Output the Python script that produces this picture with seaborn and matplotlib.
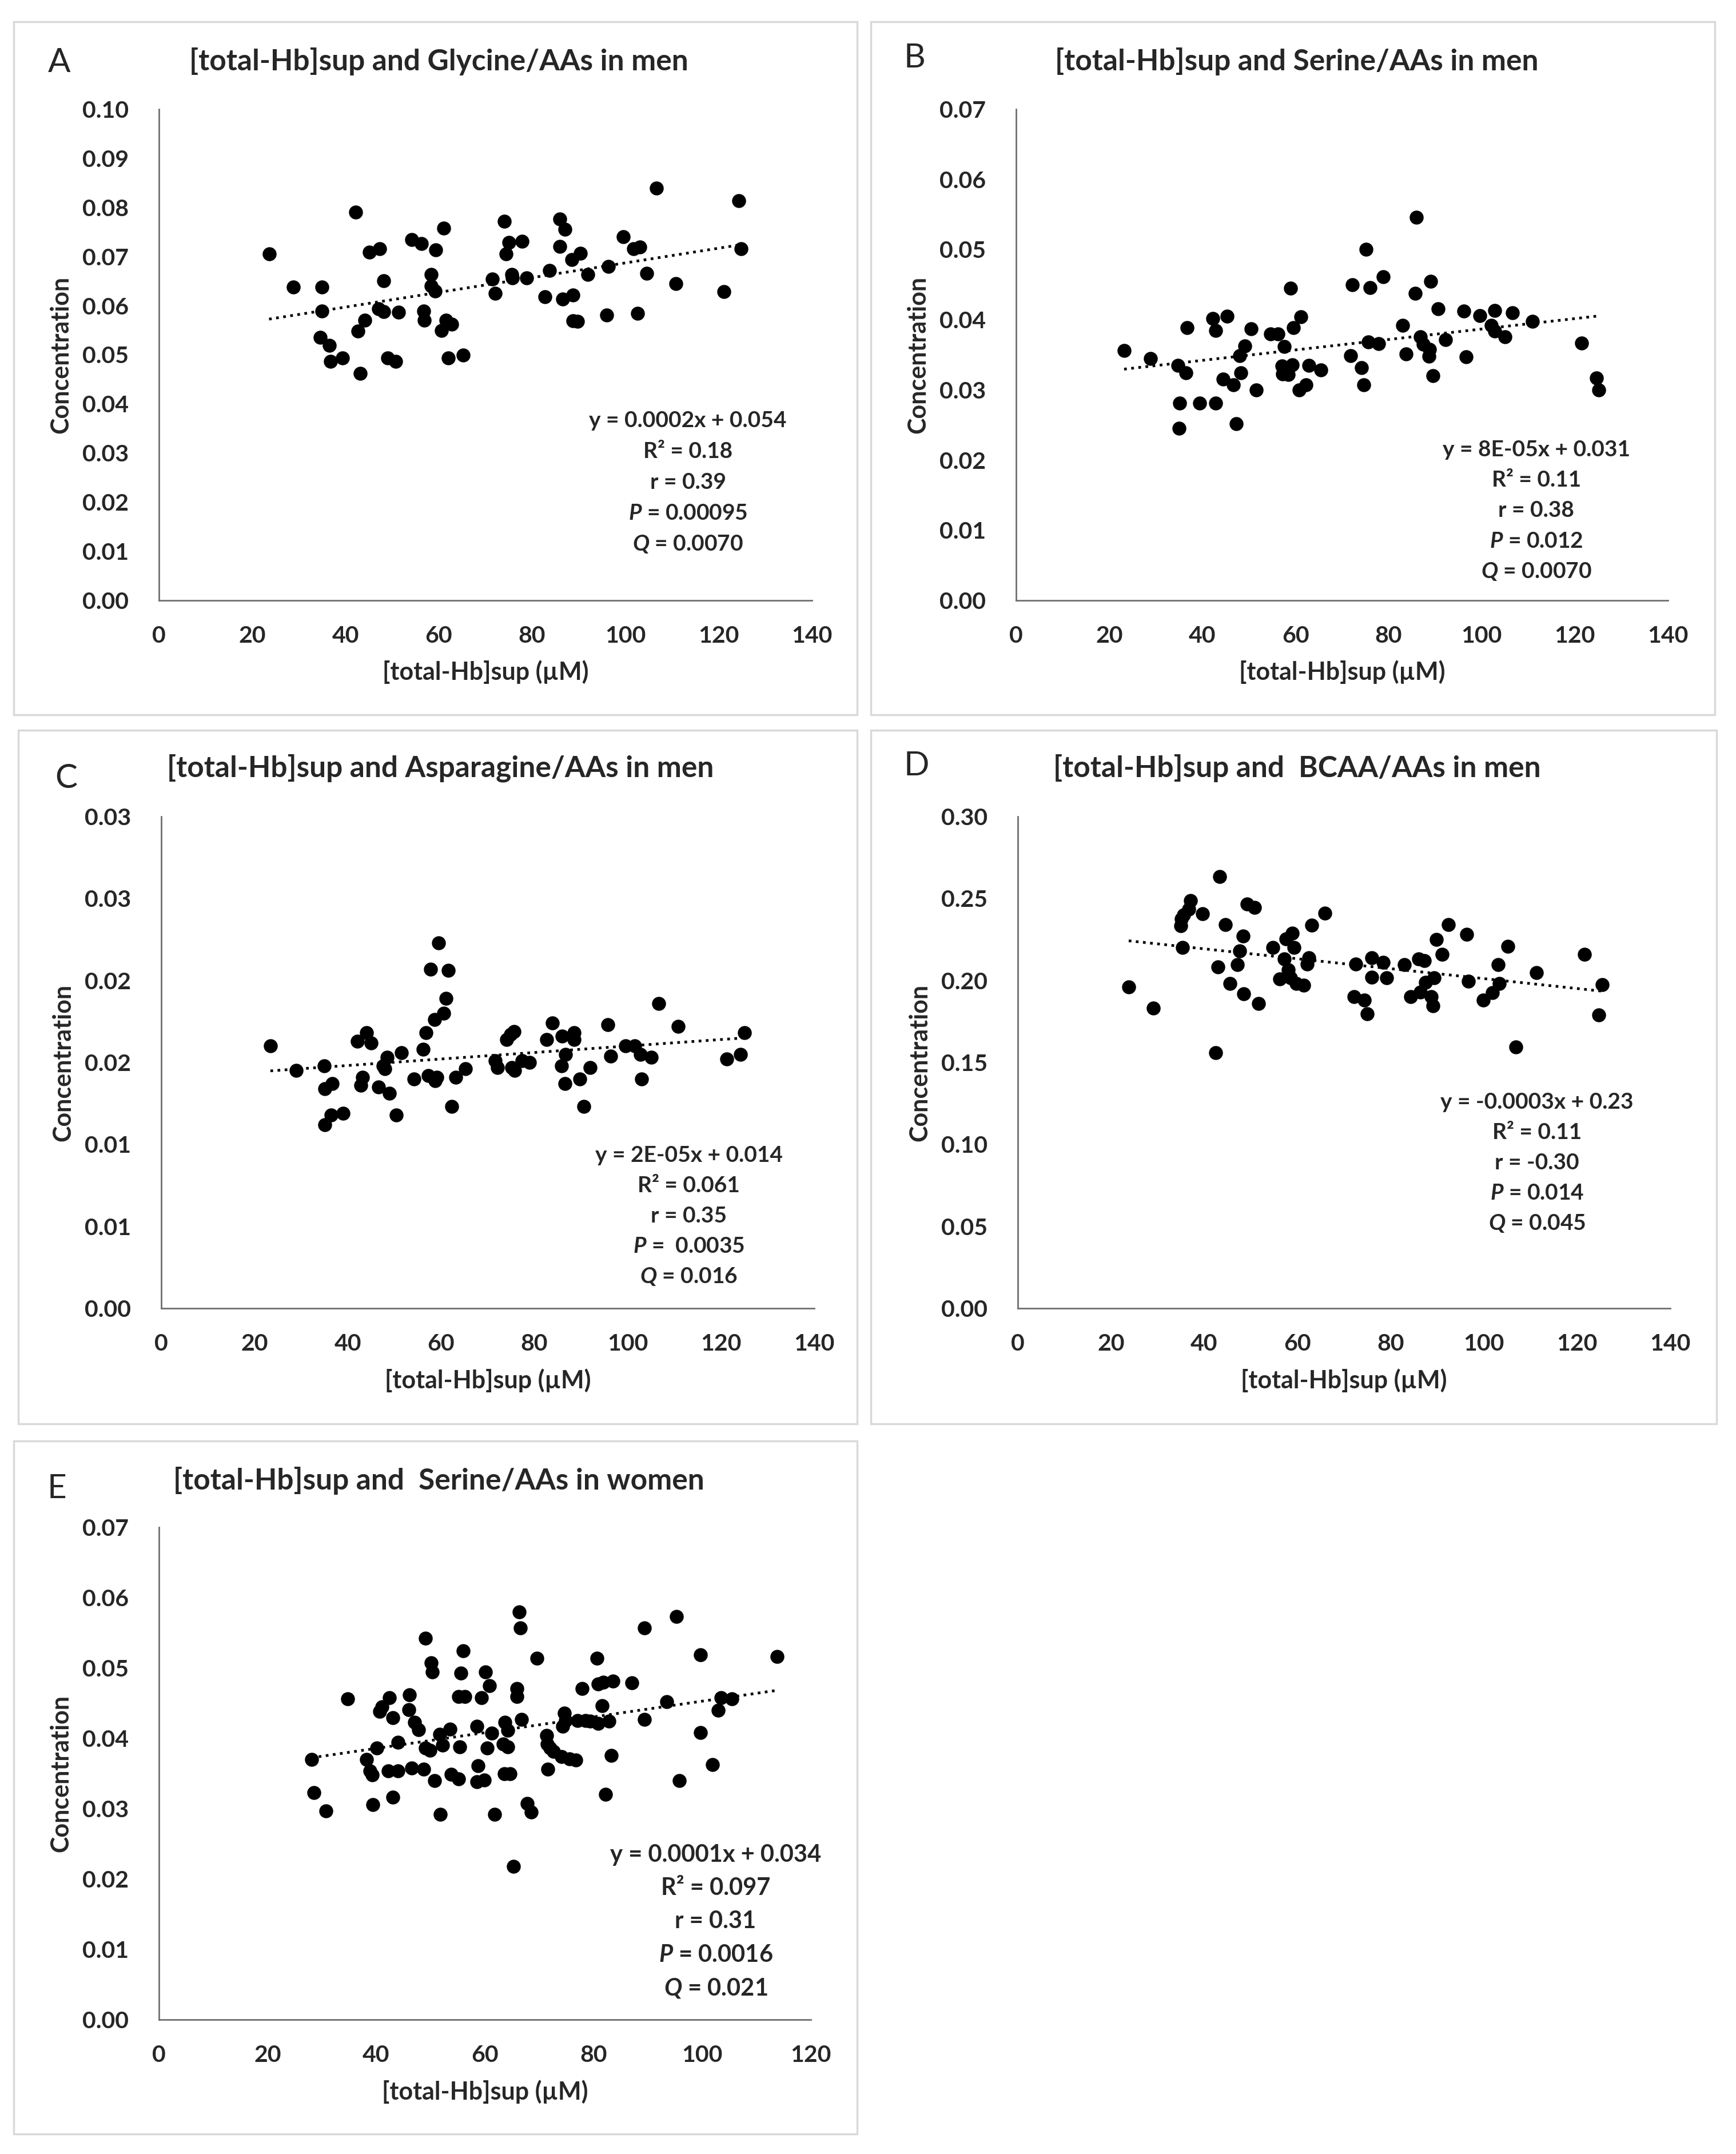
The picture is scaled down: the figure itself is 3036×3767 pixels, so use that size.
import numpy as np
import matplotlib
matplotlib.use("Agg")
import matplotlib.pyplot as plt
import seaborn as sns
from matplotlib.patches import Rectangle

# ---- data ----
hb_a = [23.6, 28.8, 34.9, 34.9, 34.6, 36.5, 36.8, 39.3, 42.2, 42.7,
        43.2, 44.1, 45.1, 47.3, 48.2, 47.1, 48.2, 49.0, 50.7, 51.4,
        54.2, 56.3, 56.8, 56.9, 58.4, 58.4, 59.2, 59.3, 61.0, 60.5,
        61.6, 62.8, 62.0, 65.2, 71.5, 72.1, 74.0, 74.4, 75.0, 75.8,
        75.7, 77.8, 78.8, 82.8, 83.7, 85.9, 85.9, 87.1, 86.6, 88.7,
        88.5, 90.4, 88.8, 89.7, 91.9, 96.0, 96.4, 99.6, 101.8, 103.1,
        102.6, 104.6, 106.6, 110.8, 121.1, 124.3, 124.8]
glycine = [0.0705, 0.0638, 0.0638, 0.0589, 0.0535, 0.0519, 0.0487, 0.0494, 0.0791, 0.0548,
           0.0462, 0.0571, 0.0709, 0.0716, 0.0651, 0.0594, 0.0588, 0.0494, 0.0487, 0.0587,
           0.0734, 0.0726, 0.0589, 0.0570, 0.0663, 0.0640, 0.0630, 0.0714, 0.0758, 0.0550,
           0.0570, 0.0562, 0.0494, 0.0499, 0.0654, 0.0625, 0.0772, 0.0706, 0.0729, 0.0656,
           0.0664, 0.0731, 0.0656, 0.0618, 0.0672, 0.0777, 0.0721, 0.0756, 0.0614, 0.0622,
           0.0694, 0.0707, 0.0569, 0.0568, 0.0664, 0.0581, 0.0680, 0.0740, 0.0716, 0.0719,
           0.0584, 0.0666, 0.0839, 0.0645, 0.0629, 0.0814, 0.0716]

hb_b = [23.2, 28.9, 34.8, 36.5, 35.1, 35.0, 36.7, 39.4, 42.2, 42.9,
        42.8, 45.3, 44.4, 46.7, 47.3, 48.3, 48.0, 49.1, 50.5, 51.6,
        54.6, 56.2, 57.6, 57.1, 57.2, 58.5, 59.0, 59.5, 59.3, 61.2,
        60.8, 62.3, 62.9, 65.4, 71.8, 72.2, 74.2, 74.7, 75.1, 76.0,
        75.7, 77.9, 78.9, 83.0, 83.8, 85.7, 86.0, 86.8, 87.4, 88.8,
        88.7, 89.0, 89.5, 90.6, 92.2, 96.1, 96.6, 99.6, 102.0, 102.8,
        102.8, 105.0, 106.6, 110.9, 121.5, 124.7, 125.1]
serine_men = [0.0356, 0.0345, 0.0335, 0.0324, 0.0281, 0.0245, 0.0389, 0.0281, 0.0402, 0.0385,
              0.0281, 0.0405, 0.0315, 0.0307, 0.0252, 0.0324, 0.0349, 0.0363, 0.0387, 0.0300,
              0.0380, 0.0380, 0.0362, 0.0334, 0.0323, 0.0322, 0.0445, 0.0389, 0.0336, 0.0404,
              0.0300, 0.0307, 0.0335, 0.0328, 0.0349, 0.0450, 0.0332, 0.0307, 0.0500, 0.0446,
              0.0368, 0.0366, 0.0461, 0.0392, 0.0351, 0.0438, 0.0546, 0.0376, 0.0365, 0.0358,
              0.0348, 0.0455, 0.0320, 0.0416, 0.0372, 0.0412, 0.0347, 0.0406, 0.0392, 0.0413,
              0.0384, 0.0376, 0.0410, 0.0398, 0.0367, 0.0317, 0.0300]

hb_c = [23.4, 28.9, 34.9, 35.0, 36.7, 35.0, 36.4, 39.0, 42.0, 44.0,
        45.0, 43.2, 42.8, 46.6, 47.6, 48.4, 47.9, 48.9, 50.4, 51.5,
        54.2, 56.2, 56.8, 57.2, 57.8, 58.6, 58.7, 59.1, 59.5, 60.5,
        61.1, 61.6, 62.3, 63.1, 65.2, 71.6, 72.1, 74.1, 74.9, 75.6,
        75.2, 75.8, 77.3, 79.0, 82.6, 83.9, 85.9, 86.7, 85.8, 86.6,
        88.5, 88.5, 89.7, 90.6, 91.9, 95.8, 96.4, 99.6, 101.5, 102.7,
        103.0, 105.0, 106.6, 110.8, 121.2, 124.2, 125.0]
asparagine = [0.0160, 0.0145, 0.0148, 0.0134, 0.0137, 0.0112, 0.0118, 0.0119, 0.0163, 0.0168,
              0.0162, 0.0141, 0.0136, 0.0135, 0.0148, 0.0153, 0.0146, 0.0131, 0.0118, 0.0156,
              0.0140, 0.0158, 0.0168, 0.0142, 0.0207, 0.0176, 0.0139, 0.0141, 0.0223, 0.0180,
              0.0189, 0.0206, 0.0123, 0.0141, 0.0146, 0.0151, 0.0147, 0.0164, 0.0167, 0.0169,
              0.0147, 0.0145, 0.0151, 0.0150, 0.0164, 0.0174, 0.0166, 0.0155, 0.0148, 0.0137,
              0.0168, 0.0164, 0.0140, 0.0123, 0.0147, 0.0173, 0.0154, 0.0160, 0.0160, 0.0155,
              0.0140, 0.0153, 0.0186, 0.0172, 0.0152, 0.0155, 0.0168]

hb_d = [23.8, 29.1, 35.0, 35.1, 35.6, 35.3, 36.7, 37.1, 39.6, 43.3,
        42.9, 44.5, 42.4, 45.5, 47.1, 47.6, 48.3, 48.5, 49.2, 50.8,
        51.7, 54.7, 57.2, 57.6, 58.9, 56.2, 58.0, 58.5, 59.3, 59.8,
        61.4, 62.1, 62.4, 63.1, 65.9, 72.1, 72.5, 74.4, 75.0, 76.0,
        76.0, 78.4, 79.2, 83.0, 84.3, 86.0, 87.3, 86.4, 87.5, 88.7,
        89.1, 89.3, 89.8, 91.0, 92.4, 96.3, 96.7, 99.9, 101.8, 103.1,
        103.3, 105.2, 106.9, 111.3, 121.6, 124.7, 125.4]
bcaa = [0.196, 0.183, 0.2335, 0.2374, 0.240, 0.220, 0.2434, 0.2487, 0.2407, 0.2633,
        0.2084, 0.234, 0.156, 0.198, 0.2095, 0.218, 0.227, 0.192, 0.2465, 0.2446,
        0.186, 0.220, 0.213, 0.2255, 0.229, 0.201, 0.2065, 0.2015, 0.220, 0.198,
        0.197, 0.210, 0.214, 0.2338, 0.241, 0.190, 0.210, 0.188, 0.1797, 0.214,
        0.202, 0.211, 0.2015, 0.2098, 0.190, 0.213, 0.212, 0.193, 0.199, 0.190,
        0.1844, 0.2015, 0.225, 0.216, 0.234, 0.228, 0.1996, 0.188, 0.1927, 0.2098,
        0.198, 0.2208, 0.1593, 0.2048, 0.2158, 0.1791, 0.1976]

hb_e = [28.1, 28.5, 30.7, 34.7, 38.2, 38.8, 39.3, 39.4, 40.1, 40.6,
        41.0, 42.4, 42.2, 43.0, 43.0, 44.0, 44.0, 46.1, 46.0, 46.5,
        47.1, 47.8, 48.7, 49.1, 49.1, 49.9, 50.1, 50.3, 50.7, 51.7,
        51.8, 52.2, 53.6, 53.8, 55.2, 55.4, 55.6, 56.0, 55.2, 56.3,
        58.5, 58.7, 58.5, 59.4, 59.9, 60.1, 60.4, 60.8, 61.3, 61.8,
        63.4, 63.6, 63.7, 64.2, 64.2, 64.6, 65.3, 65.9, 65.9, 66.3,
        66.5, 66.7, 67.8, 68.5, 69.6, 71.4, 71.5, 71.6, 72.0, 72.6,
        74.1, 74.3, 74.6, 74.8, 75.6, 76.7, 77.0, 77.9, 78.5, 79.4,
        80.6, 80.8, 80.8, 81.6, 81.8, 82.2, 82.8, 83.3, 83.6, 87.1,
        89.4, 89.4, 93.5, 95.3, 95.8, 99.7, 99.7, 101.9, 102.9, 103.5,
        105.5, 113.8]
serine_women = [0.0370, 0.0323, 0.0297, 0.0456, 0.0370, 0.0354, 0.0348, 0.0306, 0.0386, 0.0438,
                0.0445, 0.0458, 0.0354, 0.0429, 0.0316, 0.0394, 0.0354, 0.0462, 0.0441, 0.0358,
                0.0423, 0.0412, 0.0356, 0.0542, 0.0386, 0.0383, 0.0507, 0.0494, 0.0340, 0.0406,
                0.0292, 0.0390, 0.0413, 0.0349, 0.0342, 0.0388, 0.0493, 0.0524, 0.0459, 0.0459,
                0.0417, 0.0361, 0.0338, 0.0458, 0.0341, 0.0494, 0.0386, 0.0475, 0.0407, 0.0292,
                0.0392, 0.0350, 0.0423, 0.0411, 0.0388, 0.0350, 0.0218, 0.0471, 0.0459, 0.0580,
                0.0557, 0.0427, 0.0307, 0.0295, 0.0514, 0.0404, 0.0392, 0.0356, 0.0386, 0.0381,
                0.0374, 0.0417, 0.0436, 0.0425, 0.0371, 0.0369, 0.0425, 0.0471, 0.0425, 0.0424,
                0.0514, 0.0421, 0.0477, 0.0446, 0.0480, 0.0320, 0.0424, 0.0376, 0.0481, 0.0479,
                0.0557, 0.0427, 0.0452, 0.0573, 0.0340, 0.0519, 0.0408, 0.0363, 0.0440, 0.0458,
                0.0456, 0.0516]

titles = ["[total-Hb]sup and Glycine/AAs in men",
          "[total-Hb]sup and Serine/AAs in men",
          "[total-Hb]sup and Asparagine/AAs in men",
          "[total-Hb]sup and  BCAA/AAs in men",
          "[total-Hb]sup and  Serine/AAs in women"]
letters = ["A", "B", "C", "D", "E"]

stats_a = ["y = 0.0002x + 0.054", "R\u00b2 = 0.18", "r = 0.39", "$P$ = 0.00095", "$Q$ = 0.0070"]
stats_b = ["y = 8E-05x + 0.031", "R\u00b2 = 0.11", "r = 0.38", "$P$ = 0.012", "$Q$ = 0.0070"]
stats_c = ["y = 2E-05x + 0.014", "R\u00b2 = 0.061", "r = 0.35", "$P$ =  0.0035", "$Q$ = 0.016"]
stats_d = ["y = -0.0003x + 0.23", "R\u00b2 = 0.11", "r = -0.30", "$P$ = 0.014", "$Q$ = 0.045"]
stats_e = ["y = 0.0001x + 0.034", "R\u00b2 = 0.097", "r = 0.31", "$P$ = 0.0016", "$Q$ = 0.021"]

xticks_men = [0, 20, 40, 60, 80, 100, 120, 140]
xticks_women = [0, 20, 40, 60, 80, 100, 120]
yticks_a = [0.00, 0.01, 0.02, 0.03, 0.04, 0.05, 0.06, 0.07, 0.08, 0.09, 0.10]
yticks_b = [0.00, 0.01, 0.02, 0.03, 0.04, 0.05, 0.06, 0.07]
yticks_c = [0.000, 0.005, 0.010, 0.015, 0.020, 0.025, 0.030]
ylabels_c = ["0.00", "0.01", "0.01", "0.02", "0.02", "0.03", "0.03"]
yticks_d = [0.00, 0.05, 0.10, 0.15, 0.20, 0.25, 0.30]
yticks_e = [0.00, 0.01, 0.02, 0.03, 0.04, 0.05, 0.06, 0.07]

# ---- styling ----
sns.set_style("white")
plt.rcParams['font.family'] = ['Lato', 'DejaVu Sans']
plt.rcParams['mathtext.fontset'] = 'custom'
plt.rcParams['mathtext.it'] = 'Lato:italic:bold'
plt.rcParams['mathtext.rm'] = 'Lato:bold'

W, H = 3036, 3767
fig = plt.figure(figsize=(W / 100, H / 100), dpi=100)
fig.patch.set_facecolor("white")

def fx(px):
    return px / W

def fy(py):
    return 1 - py / H

# axes rect in pixels (left, top, right, bottom), frame box, title/letter pos, stats pos
panels = [
    dict(x=hb_a, y=glycine, ax_px=(278, 191, 1420, 1050), box=(24, 38, 1499, 1250),
         title=(767, 107), letter=(104, 110), yt=yticks_a, yl=None, xt=xticks_men,
         stats=stats_a, st=(0.81, 0.366, 0.0627), st_fs=28),
    dict(x=hb_b, y=serine_men, ax_px=(1777, 191, 2917, 1050), box=(1523, 38, 2999, 1250),
         title=(2268, 107), letter=(1600, 102), yt=yticks_b, yl=None, xt=xticks_men,
         stats=stats_b, st=(0.798, 0.307, 0.062), st_fs=28),
    dict(x=hb_c, y=asparagine, ax_px=(282, 1428, 1424, 2288), box=(32, 1277, 1499, 2490),
         title=(770, 1343), letter=(116, 1361), yt=yticks_c, yl=ylabels_c, xt=xticks_men,
         stats=stats_c, st=(0.808, 0.311, 0.0616), st_fs=28),
    dict(x=hb_d, y=bcaa, ax_px=(1780, 1428, 2921, 2288), box=(1523, 1277, 3002, 2490),
         title=(2268, 1343), letter=(1603, 1339), yt=yticks_d, yl=None, xt=xticks_men,
         stats=stats_d, st=(0.796, 0.419, 0.0616), st_fs=28),
    dict(x=hb_e, y=serine_women, ax_px=(278, 2671, 1418, 3532), box=(24, 2520, 1499, 3732),
         title=(767, 2589), letter=(100, 2603), yt=yticks_e, yl=None, xt=xticks_women,
         stats=stats_e, st=(0.854, 0.335, 0.0679), st_fs=30),
]

for i, p in enumerate(panels):
    # light grey frame around each panel
    bx0, by0, bx1, by1 = p["box"]
    fig.patches.append(Rectangle((fx(bx0), fy(by1)), fx(bx1) - fx(bx0), fy(by0) - fy(by1),
                                 transform=fig.transFigure, fill=False,
                                 edgecolor="#d9d9d9", linewidth=2.5, zorder=0))

    l, t, r, b = p["ax_px"]
    ax = fig.add_axes([fx(l), fy(b), fx(r) - fx(l), fy(t) - fy(b)])
    sns.scatterplot(x=p["x"], y=p["y"], ax=ax, color="black", s=310,
                    edgecolor="black", linewidth=0, zorder=3)
    sns.regplot(x=np.array(p["x"]), y=np.array(p["y"]), ax=ax, scatter=False, ci=None,
                line_kws=dict(color="black", linestyle=":", linewidth=3.4), truncate=True)

    ax.set_xlim(p["xt"][0], p["xt"][-1])
    ax.set_ylim(p["yt"][0], p["yt"][-1])
    ax.set_xticks(p["xt"])
    ax.set_yticks(p["yt"])
    ax.set_xticklabels([str(v) for v in p["xt"]])
    if p["yl"] is None:
        ax.set_yticklabels(["%.2f" % v for v in p["yt"]])
    else:
        ax.set_yticklabels(p["yl"])
    ax.tick_params(length=0, labelsize=29.5, pad=32)
    ax.tick_params(axis="y", pad=38)
    for lab in ax.get_xticklabels() + ax.get_yticklabels():
        lab.set_fontweight("bold")

    sns.despine(ax=ax)
    for sp in ("left", "bottom"):
        ax.spines[sp].set_color("#6f6f6f")
        ax.spines[sp].set_linewidth(2)
    ax.grid(False)

    ax.set_xlabel("[total-Hb]sup (\u00b5M)", fontsize=31, fontweight="bold")
    ax.set_ylabel("Concentration", fontsize=31, fontweight="bold")
    ax.xaxis.set_label_coords(0.5, -0.122)
    ax.yaxis.set_label_coords(-0.133, 0.5)

    sx, sy, step = p["st"]
    for k, line in enumerate(p["stats"]):
        ax.text(sx, sy - k * step, line, transform=ax.transAxes, ha="center", va="center",
                fontsize=p["st_fs"], fontweight="bold")

    fig.text(fx(p["title"][0]), fy(p["title"][1]), titles[i], ha="center", va="center",
             fontsize=37, fontweight="bold")
    fig.text(fx(p["letter"][0]), fy(p["letter"][1]), letters[i], ha="center", va="center",
             fontsize=42)

fig.savefig("out.png", dpi=100, facecolor="white")
